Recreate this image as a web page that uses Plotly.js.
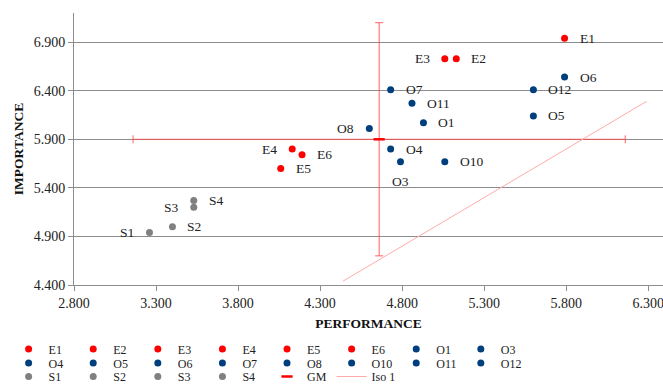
<!DOCTYPE html>
<html><head><meta charset="utf-8">
<script src="https://cdn.plot.ly/plotly-3.0.1.min.js"></script>
<style>html,body{margin:0;padding:0;background:#fff}#chart{width:663px;height:391px}</style>
</head><body><div id="chart"></div>
<script>
// ---- data ----
const eNames = ['E1','E2','E3','E4','E5','E6'];
const ePerf  = [5.79, 5.13, 5.06, 4.13, 4.06, 4.19];
const eImp   = [6.94, 6.73, 6.73, 5.80, 5.60, 5.74];
const oNames = ['O1','O3','O4','O5','O6','O7','O8','O10','O11','O12'];
const oPerf  = [4.93, 4.79, 4.73, 5.60, 5.79, 4.73, 4.60, 5.06, 4.86, 5.60];
const oImp   = [6.07, 5.67, 5.80, 6.14, 6.54, 6.41, 6.01, 5.67, 6.27, 6.41];
const sNames = ['S1','S2','S3','S4'];
const sPerf  = [3.26, 3.40, 3.53, 3.53];
const sImp   = [4.94, 5.00, 5.20, 5.27];
const gmPerf = [4.66];
const gmImp  = [5.90];
const gmPerfErr = [1.5];
const gmImpErr  = [1.2];
const isoPerf = [4.44, 6.29];
const isoImp  = [4.44, 6.29];

// ---- styling ----
const FONT = 'Liberation Serif, Times New Roman, serif';
const labelSide = {E1:'r',E2:'r',E3:'l',E4:'l',E5:'r',E6:'r',O1:'r',O3:'b',O4:'r',O5:'r',O6:'r',O7:'r',O8:'l',O10:'r',O11:'r',O12:'r',S1:'l',S2:'r',S3:'l',S4:'r'};
const groups = [
  {names:eNames, x:ePerf, y:eImp, color:'#ff0000'},
  {names:oNames, x:oPerf, y:oImp, color:'#003f7d'},
  {names:sNames, x:sPerf, y:sImp, color:'#808080'}
];
const traces = [];
const annotations = [];
groups.forEach(g => {
  g.names.forEach((n, i) => {
    traces.push({type:'scatter', mode:'markers', name:n, x:[g.x[i]], y:[g.y[i]],
      marker:{color:g.color, size:7}, hoverinfo:'name+x+y'});
    const side = labelSide[n];
    const a = {x:g.x[i], y:g.y[i], text:n, showarrow:false, font:{family:FONT, size:13.5, color:'#222'}};
    if (side === 'r') { a.xanchor='left'; a.xshift=13; }
    else if (side === 'l') { a.xanchor='right'; a.xshift=-13; }
    else { a.xanchor='center'; a.yshift=-20; }
    annotations.push(a);
  });
});
traces.push({type:'scatter', mode:'markers', name:'GM', x:gmPerf, y:gmImp,
  marker:{symbol:'line-ew', size:8, color:'#ff0000', line:{color:'#ff0000', width:2.5}},
  error_x:{type:'data', array:gmPerfErr, visible:true, color:'rgba(255,70,70,0.85)', thickness:1, width:4},
  error_y:{type:'data', array:gmImpErr, visible:true, color:'rgba(255,70,70,0.85)', thickness:1, width:4}});
traces.push({type:'scatter', mode:'lines', name:'Iso 1', x:isoPerf, y:isoImp,
  line:{color:'#ffaaaa', width:1}});

traces.forEach((t, i) => { t.legend = i < 8 ? 'legend' : (i < 16 ? 'legend2' : 'legend3'); });

const legBase = {orientation:'h', x:-0.111, xanchor:'left', yanchor:'middle',
  font:{family:FONT, size:12, color:'#222'}, entrywidth:19.6, entrywidthmode:'pixels',
  bgcolor:'rgba(0,0,0,0)', itemclick:false};

const layout = {
  width:663, height:391,
  margin:{l:74, r:0, t:13, b:106},
  paper_bgcolor:'#fff', plot_bgcolor:'#fff',
  font:{family:FONT, size:14, color:'#222'},
  xaxis:{range:[2.8, 6.39], tick0:2.8, dtick:0.5, tickformat:'.3f', showgrid:false, zeroline:false,
    showline:true, linecolor:'#8c8c8c', linewidth:1, ticks:'outside', ticklen:5, tickcolor:'#8c8c8c',
    ticklabeloverflow:'allow',
    tickfont:{family:FONT, size:14, color:'#222'},
    title:{text:'<b>PERFORMANCE</b>', font:{family:FONT, size:13.5, color:'#111'}, standoff:8}, automargin:false},
  yaxis:{range:[4.4, 7.2], tick0:4.4, dtick:0.5, tickformat:'.3f', showgrid:true, gridcolor:'#8c8c8c', gridwidth:1,
    zeroline:false, showline:true, linecolor:'#8c8c8c', linewidth:1, ticks:'outside', ticklen:5, tickcolor:'#8c8c8c',
    tickfont:{family:FONT, size:14, color:'#222'},
    title:{text:'<b>IMPORTANCE</b>', font:{family:FONT, size:13.5, color:'#111'}, standoff:6}, automargin:false},
  legend:Object.assign({}, legBase, {y:-0.2353}),
  legend2:Object.assign({}, legBase, {y:-0.2868}),
  legend3:Object.assign({}, legBase, {y:-0.3382}),
  annotations:annotations,
  showlegend:true
};
Plotly.newPlot('chart', traces, layout, {displayModeBar:false, staticPlot:true});
</script></body></html>
